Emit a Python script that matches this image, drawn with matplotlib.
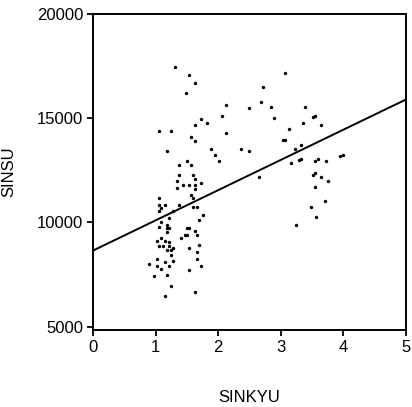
import numpy as np
import matplotlib
matplotlib.use("Agg")
import matplotlib.pyplot as plt

plt.rcParams['font.family'] = ['Liberation Sans', 'DejaVu Sans']

# SINKYU / SINSU observations
sinkyu = [1.31, 1.53, 1.63, 1.49, 3.06, 2.71, 2.13, 2.49, 2.84, 2.68,
          3.38, 1.73, 1.82, 1.63, 2.06, 2.89, 1.06, 1.25, 1.57, 1.63,
          2.13, 3.52, 3.55, 3.64, 3.35, 3.13, 3.04, 3.06, 1.18, 1.88,
          1.95, 2.01, 2.36, 2.49, 3.32, 3.22, 3.29, 3.32, 3.16, 3.54,
          3.60, 3.73, 3.95, 3.99, 3.51, 3.54, 3.64, 3.75, 3.54, 3.70,
          3.48, 3.56, 3.25, 2.65, 1.50, 1.37, 1.57, 1.37, 1.34, 1.34,
          1.44, 1.53, 1.60, 1.63, 1.63, 1.63, 1.73, 1.57, 1.60, 1.37,
          1.60, 1.66, 1.76, 1.69, 1.06, 1.06, 1.15, 1.06, 1.09, 1.28,
          1.22, 1.06, 1.18, 1.18, 1.22, 1.18, 1.09, 1.50, 1.53, 1.47,
          1.50, 1.41, 1.63, 1.66, 1.02, 1.09, 1.15, 1.06, 1.12, 1.22,
          1.22, 1.28, 1.25, 1.18, 1.53, 1.69, 1.66, 1.25, 1.02, 1.28,
          1.66, 1.15, 1.09, 1.02, 1.22, 0.90, 1.73, 1.53, 0.98, 1.18,
          1.25, 1.63, 1.15]
sinsu = [17480, 17080, 16710, 16230, 17190, 16500, 15640, 15470, 15550, 15800,
         15550, 14970, 14780, 14690, 15090, 14990, 14400, 14400, 14110, 13920,
         14300, 15070, 15090, 14690, 14780, 14500, 13970, 13940, 13440, 13540,
         13250, 12960, 13540, 13440, 13730, 13540, 13010, 13050, 12870, 12960,
         13060, 12960, 13190, 13250, 12290, 12390, 12200, 12010, 11720, 11050,
         10760, 10280, 9900, 12170, 12960, 12770, 12770, 12260, 12010, 11660,
         11820, 11820, 12290, 12100, 11820, 11620, 11910, 11340, 11150, 10860,
         10760, 10760, 10380, 10140, 11180, 10860, 10860, 10570, 10670, 10570,
         10190, 9770, 9900, 9710, 9710, 9520, 10000, 9710, 9710, 9420,
         9420, 9230, 9610, 9420, 9130, 9230, 9130, 8850, 8850, 9040,
         8850, 8750, 8660, 8660, 8750, 8940, 8560, 8460, 8270, 8140,
         8270, 8080, 7790, 7890, 7890, 7990, 7890, 7700, 7410, 7460,
         6930, 6640, 6450]

# linear fit line
fit_intercept = 8650
fit_slope = 1450

x_ticks = [0, 1, 2, 3, 4, 5]
y_ticks = [5000, 10000, 15000, 20000]

fig = plt.figure(figsize=(4.12, 4.07), dpi=100)
ax = fig.add_axes([93 / 412, 1 - 330 / 407, 313 / 412, 316 / 407])

ax.scatter(sinkyu, sinsu, s=6, color='black', linewidths=0, zorder=3)
xs = np.array([0, 5])
ax.plot(xs, fit_intercept + fit_slope * xs, color='black', lw=1.4, zorder=2)

ax.set_xlim(0, 5)
ax.set_ylim(4840, 20000)
ax.set_xticks(x_ticks)
ax.set_yticks(y_ticks)
ax.tick_params(direction='out', length=4, width=1.3, labelsize=12, pad=3)
for sp in ax.spines.values():
    sp.set_linewidth(1.4)

fig.text(249 / 412, 1 - 398 / 407, 'SINKYU', ha='center', va='center', fontsize=12)
fig.text(9 / 412, 1 - 172 / 407, 'SINSU', ha='center', va='center', rotation=90, fontsize=12)

fig.savefig('out.png', dpi=100)
